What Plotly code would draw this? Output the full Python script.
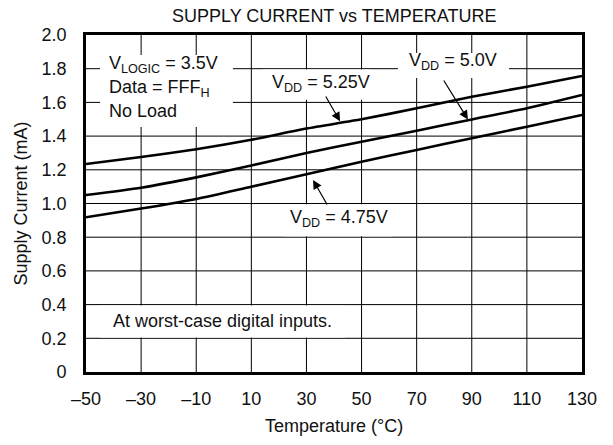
import plotly.graph_objects as go

# ---- data ----
temps = [-50, -30, -10, 10, 30, 50, 70, 90, 110, 130]
vdd_525 = [1.234, 1.276, 1.322, 1.378, 1.445, 1.50, 1.565, 1.634, 1.693, 1.757]
vdd_500 = [1.05, 1.094, 1.155, 1.226, 1.30, 1.367, 1.432, 1.499, 1.565, 1.644]
vdd_475 = [0.918, 0.97, 1.027, 1.10, 1.173, 1.248, 1.318, 1.387, 1.456, 1.525]

x_ticks = [-50, -30, -10, 10, 30, 50, 70, 90, 110, 130]
x_labels = ["–50", "–30", "–10", "10", "30", "50", "70", "90", "110", "130"]
y_ticks = [0, 0.2, 0.4, 0.6, 0.8, 1.0, 1.2, 1.4, 1.6, 1.8, 2.0]
y_labels = ["0", "0.2", "0.4", "0.6", "0.8", "1.0", "1.2", "1.4", "1.6", "1.8", "2.0"]

FONT = "Arial, Liberation Sans, Helvetica, sans-serif"
FS = 18
TXT = "#111"

fig = go.Figure()
for ys in (vdd_525, vdd_500, vdd_475):
    fig.add_trace(go.Scatter(x=temps, y=ys, mode="lines",
                             line=dict(color="black", width=2.6, shape="spline", smoothing=0.6),
                             showlegend=False, hoverinfo="skip"))

# grid lines (drawn as shapes so that label boxes can hide them)
for xv in x_ticks[1:-1]:
    fig.add_shape(type="line", xref="x", yref="paper", x0=xv, x1=xv, y0=0, y1=1,
                  line=dict(color="black", width=1), layer="below")
for yv in y_ticks[1:-1]:
    fig.add_shape(type="line", xref="paper", yref="y", x0=0, x1=1, y0=yv, y1=yv,
                  line=dict(color="black", width=1), layer="below")

# white boxes hiding grid behind labels
boxes = [
    (-44.9, 3.3, 1.454, 1.881),
    (14.2, 53.0, 1.615, 1.795),
    (63.2, 103.5, 1.745, 1.893),
    (21.5, 61.0, 0.805, 0.995),
    (-44.9, 44.0, 0.205, 0.395),
]
for x0, x1, y0, y1 in boxes:
    fig.add_shape(type="rect", xref="x", yref="y", x0=x0, x1=x1, y0=y0, y1=y1,
                  fillcolor="white", line=dict(width=0), layer="below")

labels = [
    ("V<sub>LOGIC</sub> = 3.5V", -42.4, 1.822),
    ("Data = FFF<sub>H</sub>", -42.4, 1.680),
    ("No Load", -42.4, 1.549),
    ("V<sub>DD</sub> = 5.25V", 16.8, 1.713),
    ("V<sub>DD</sub> = 5.0V", 66.5, 1.842),
    ("V<sub>DD</sub> = 4.75V", 23.3, 0.912),
    ("At worst-case digital inputs.", -41.0, 0.30),
]
for t, x, y in labels:
    fig.add_annotation(text=t, x=x, y=y, xref="x", yref="y", xanchor="left", yanchor="middle",
                       showarrow=False, font=dict(family=FONT, size=FS, color=TXT))

arrows = [
    (42.2, 1.488, 36.7, 1.644),
    (88.6, 1.499, 79.5, 1.739),
    (32.4, 1.14, 37.8, 0.985),
]
for x, y, ax, ay in arrows:
    fig.add_annotation(text="", x=x, y=y, ax=ax, ay=ay, xref="x", yref="y", axref="x", ayref="y",
                       showarrow=True, arrowhead=2, arrowsize=1.5, arrowwidth=1.2, arrowcolor="black")

W, H = 613, 445
ML, MT, MR, MB = 86, 35, 31, 73
PW, PH = W - ML - MR, H - MT - MB
fig.add_annotation(text="SUPPLY CURRENT vs TEMPERATURE", xref="paper", yref="paper",
                   x=0.5, y=1 + (35 - 16) / PH, xanchor="center", yanchor="middle", showarrow=False,
                   font=dict(family=FONT, size=FS, color=TXT))
fig.add_annotation(text="Supply Current (mA)", xref="paper", yref="paper",
                   x=(20 - 86) / PW, y=0.5, xanchor="center", yanchor="middle", textangle=-90,
                   showarrow=False, font=dict(family=FONT, size=FS, color=TXT))
fig.add_annotation(text="Temperature (°C)", xref="paper", yref="paper",
                   x=0.5, y=(372 - 426) / PH, xanchor="center", yanchor="middle",
                   showarrow=False, font=dict(family=FONT, size=FS, color=TXT))

fig.update_layout(
    width=W, height=H,
    margin=dict(l=ML, r=MR, t=MT, b=MB),
    paper_bgcolor="white", plot_bgcolor="white",
    font=dict(family=FONT, size=FS, color=TXT),
    showlegend=False,
)
fig.update_xaxes(range=[-50, 130], tickvals=x_ticks, ticktext=x_labels, showgrid=False,
                 zeroline=False, showline=True, linecolor="black",
                 linewidth=2.6, mirror=True, ticks="", ticklabelstandoff=9,
                 tickfont=dict(family=FONT, size=FS, color=TXT))
fig.update_yaxes(range=[0, 2.0], tickvals=y_ticks, ticktext=y_labels, showgrid=False,
                 zeroline=False, showline=True, linecolor="black",
                 linewidth=2.6, mirror=True, ticks="", ticklabelstandoff=13,
                 tickfont=dict(family=FONT, size=FS, color=TXT))

fig.write_html("out.html", config={"displayModeBar": False},
               post_script="document.body.style.margin='0';")
